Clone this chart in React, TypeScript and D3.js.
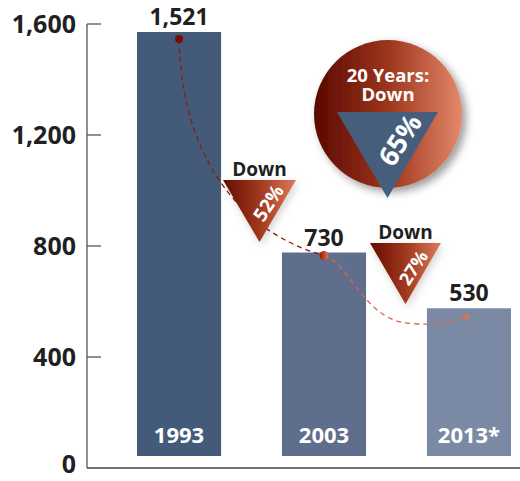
import React from "react";
import * as d3 from "d3";

const years = ["1993", "2003", "2013*"];
const values = [1521, 730, 530];
const valueLabels = ["1,521", "730", "530"];
const yTicks = [0, 400, 800, 1200, 1600];
const declines = ["52%", "27%"];
const totalDecline = "65%";
const totalTitle = ["20 Years:", "Down"];

const W = 520;
const H = 481;
const FONT = "'Open Sans', 'Noto Sans', sans-serif";
const barColors = ["#435b79", "#5f6e8c", "#7a8aa4"];
const TXT = "#231f20";

export default function App() {
  const yAxis = d3.scaleLinear().domain([0, 1600]).range([468, 24]);
  const yBar = d3.scaleLinear().domain([0, 1600]).range([456, 10]);
  const x = d3.scaleBand<string>().domain(years).range([137, 511]).paddingInner(0.42).paddingOuter(0);
  const bw = x.bandwidth();
  const cx = (i: number) => (x(years[i]) as number) + bw / 2;

  const p0 = [cx(0), yBar(values[0]) + 7];
  const p1 = [cx(1), yBar(values[1]) + 3];
  const p2 = [cx(2) - 1, yBar(values[2]) + 8];
  const path1 = d3.path();
  path1.moveTo(p0[0], p0[1]);
  path1.bezierCurveTo(p0[0] + 2, p0[1] + 110, p1[0] - 90, p1[1] - 25, p1[0], p1[1]);
  const path2 = d3.path();
  path2.moveTo(p1[0], p1[1]);
  path2.bezierCurveTo(p1[0] + 25, p1[1] + 6, p1[0] + 40, p1[1] + 66, p1[0] + 87, p1[1] + 68);
  path2.bezierCurveTo(p1[0] + 112, p1[1] + 70, p2[0] - 15, p2[1] + 6, p2[0], p2[1]);

  const tri = (cxv: number, top: number, w: number, h: number) =>
    `M${cxv - w / 2},${top}L${cxv + w / 2},${top}L${cxv},${top + h}Z`;

  const gap1 = (x(years[0]) as number) + bw + ((x(years[1]) as number) - (x(years[0]) as number) - bw) / 2 + 8;
  const gap2 = (x(years[1]) as number) + bw + ((x(years[2]) as number) - (x(years[1]) as number) - bw) / 2 + 9;
  const triangles = [
    { cx: gap1, top: 180, w: 73, h: 62, label: declines[0], tx: 9, ty: 23, fs: 19 },
    { cx: gap2, top: 243, w: 71, h: 61, label: declines[1], tx: 8, ty: 25, fs: 18 },
  ];

  const circ = { cx: 388, cy: 114, r: 74 };

  return (
    <svg width={W} height={H} style={{ position: "absolute", left: 0, top: 0 }} fontFamily={FONT}>
      <defs>
        <linearGradient id="redGrad" x1="0" x2="1" y1="0" y2="0">
          <stop offset="0%" stopColor="#5a0900" />
          <stop offset="50%" stopColor="#9c351c" />
          <stop offset="100%" stopColor="#e4886a" />
        </linearGradient>
        <linearGradient id="triGrad" x1="0" x2="1" y1="0" y2="0">
          <stop offset="0%" stopColor="#650c00" />
          <stop offset="50%" stopColor="#a0381d" />
          <stop offset="100%" stopColor="#dc7a5c" />
        </linearGradient>
        <linearGradient id="dotGrad" x1="0" x2="1" y1="0" y2="0">
          <stop offset="0%" stopColor="#8a1a05" />
          <stop offset="100%" stopColor="#e8704a" />
        </linearGradient>
        <filter id="shadow" x="-30%" y="-30%" width="160%" height="160%">
          <feDropShadow dx="4" dy="4" stdDeviation="4" floodColor="#000" floodOpacity="0.4" />
        </filter>
        <filter id="soft" x="-40%" y="-40%" width="180%" height="180%">
          <feDropShadow dx="2" dy="3" stdDeviation="4" floodColor="#000" floodOpacity="0.18" />
        </filter>
        <marker id="arrow" viewBox="0 0 10 10" refX="6" refY="5" markerWidth="9" markerHeight="9" orient="auto" markerUnits="userSpaceOnUse">
          <path d="M0,0L10,5L0,10L3,5Z" fill="#e07452" />
        </marker>
      </defs>

      {/* axes */}
      <line x1={87} x2={87} y1={yAxis(1600)} y2={yAxis(0)} stroke="#555" strokeWidth={1.3} />
      <line x1={87} x2={W} y1={yAxis(0)} y2={yAxis(0)} stroke="#444" strokeWidth={1.5} />
      {yTicks.map((t) => (
        <g key={t}>
          {t > 0 && <line x1={87} x2={101} y1={yAxis(t)} y2={yAxis(t)} stroke="#555" strokeWidth={1.3} />}
          <text
            x={76}
            y={t === 0 ? yAxis(t) + 5 : yAxis(t)}
            dy={t === 0 ? "0" : "0.36em"}
            textAnchor="end"
            fontSize={25}
            fontWeight={700}
            fill={TXT}
          >
            {d3.format(",")(t)}
          </text>
        </g>
      ))}

      {/* bars */}
      {years.map((yr, i) => (
        <g key={yr}>
          <rect x={x(yr)} y={yBar(values[i])} width={bw} height={yBar(0) - yBar(values[i])} fill={barColors[i]} />
          <text x={cx(i)} y={443} textAnchor="middle" fontSize={22} fontWeight={700} fill="#fff">
            {yr}
          </text>
          <text x={cx(i)} y={yBar(values[i]) - 7} textAnchor="middle" fontSize={23} fontWeight={700} fill={TXT}>
            {valueLabels[i]}
          </text>
        </g>
      ))}

      {/* connector */}
      <path d={path1.toString()} fill="none" stroke="#8c1a0b" strokeWidth={1.3} strokeDasharray="5,4" />
      <path d={path2.toString()} fill="none" stroke="#d9664a" strokeWidth={1.3} strokeDasharray="5,4" markerEnd="url(#arrow)" />
      <circle cx={p0[0]} cy={p0[1]} r={4} fill="#7a0c04" />
      <circle cx={p1[0]} cy={p1[1]} r={4.5} fill="url(#dotGrad)" />

      {/* decline triangles */}
      {triangles.map((t) => (
        <g key={t.label}>
          <text x={t.cx} y={t.top - 4} textAnchor="middle" fontSize={19} fontWeight={700} fill={TXT}>
            Down
          </text>
          <path d={tri(t.cx, t.top, t.w, t.h)} fill="url(#triGrad)" filter="url(#soft)" />
          <text
            transform={`translate(${t.cx + t.tx},${t.top + t.ty}) rotate(-57)`}
            textAnchor="middle"
            dy="0.35em"
            fontSize={t.fs}
            fontWeight={700}
            fill="#fff"
          >
            {t.label}
          </text>
        </g>
      ))}

      {/* 20-year circle */}
      <circle cx={circ.cx} cy={circ.cy} r={circ.r} fill="url(#redGrad)" filter="url(#shadow)" />
      <text x={circ.cx} y={82} textAnchor="middle" fontSize={18.5} fontWeight={700} fill="#fff">
        <tspan x={circ.cx}>{totalTitle[0]}</tspan>
        <tspan x={circ.cx} dy={19}>{totalTitle[1]}</tspan>
      </text>
      <path d={tri(387.5, 112, 101, 86)} fill="#465e7c" />
      <text
        transform={`translate(400,140) rotate(-57)`}
        textAnchor="middle"
        dy="0.35em"
        fontSize={27}
        fontWeight={700}
        fill="#fff"
      >
        {totalDecline}
      </text>
    </svg>
  );
}
